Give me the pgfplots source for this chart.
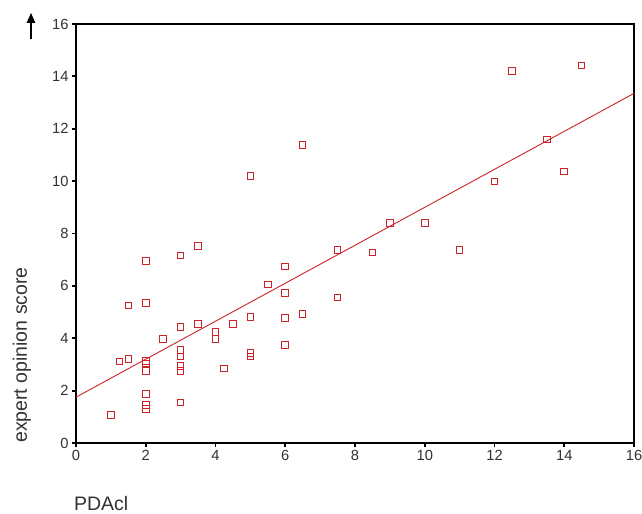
\documentclass[border=0pt]{standalone}
\usepackage{fontspec}
\setmainfont{Liberation Sans}
\usepackage{pgfplots}
\pgfplotsset{compat=1.18}
\usetikzlibrary{arrows.meta}

\definecolor{ptred}{RGB}{205,35,40}
\definecolor{txtgray}{RGB}{50,50,50}

\begin{document}
\begin{tikzpicture}
  \useasboundingbox (0,0) rectangle (642bp,514bp);
  \begin{axis}[
    at={(76bp,71bp)}, anchor=south west,
    scale only axis, width=558bp, height=419bp,
    xmin=0, xmax=16, ymin=0, ymax=16,
    xtick={0,2,...,16}, ytick={0,2,...,16},
    xtick pos=left, ytick pos=left,
    tick align=outside, major tick length=4bp,
    tick style={black, line width=1.8bp},
    axis line style={black, line width=1.2bp},
    /pgf/number format/assume math mode=true,
    tick label style={font=\fontsize{14.7bp}{17bp}\selectfont, text=txtgray},
    label style={font=\fontsize{19.5bp}{22bp}\selectfont, text=txtgray},
    xlabel={PDAcl},
    xlabel style={at={(axis description cs:0.045,-0.161)}, anchor=base},
    ylabel={expert opinion score},
    ylabel style={at={(axis description cs:-0.097,0.21)}, anchor=center, rotate=0},
    clip=false,
  ]
  \addplot[only marks, mark=square, mark size=3.3bp, ptred, line width=1bp]
    coordinates {
      (1,1.07) (1.25,3.11) (1.5,3.21) (1.5,5.25)
      (2,1.29) (2,1.45) (2,1.87) (2,2.76) (2,3.03) (2,3.13) (2,5.35) (2,6.95)
      (2.5,3.97)
      (3,1.54) (3,2.76) (3,2.95) (3,3.31) (3,3.54) (3,4.43) (3,7.16)
      (3.5,4.55) (3.5,7.53)
      (4,3.96) (4,4.24) (4.25,2.84) (4.5,4.55)
      (5,3.30) (5,3.44) (5,4.82) (5,10.2)
      (5.5,6.05)
      (6,3.75) (6,4.77) (6,5.72) (6,6.74)
      (6.5,4.93) (6.5,11.38)
      (7.5,5.56) (7.5,7.38) (8.5,7.27)
      (9,8.39) (10,8.39) (11,7.38)
      (12,9.99) (12.5,14.2) (13.5,11.59) (14,10.36) (14.5,14.41)
    };
  \addplot[ptred, line width=0.9bp] coordinates {(0,1.75) (16,13.35)};
  \end{axis}
  \draw[black, line width=1.4bp, -{Triangle[width=8.5bp,length=10bp]}] (31bp,475bp) -- (31bp,501bp);
\end{tikzpicture}
\end{document}
